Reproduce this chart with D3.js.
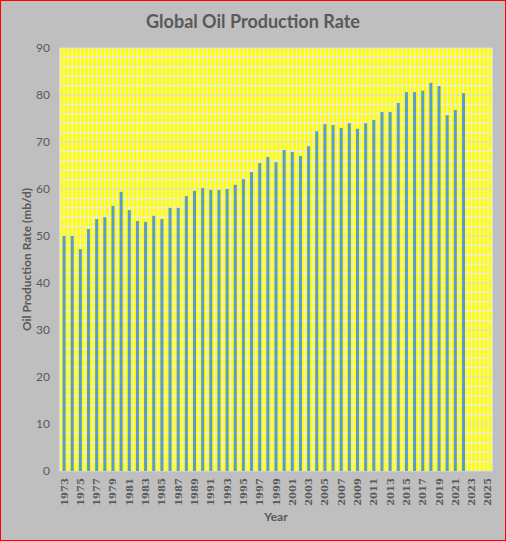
<!DOCTYPE html>
<html>
<head>
<meta charset="utf-8">
<script src="https://cdn.jsdelivr.net/npm/d3@7"></script>
<style>
  html, body { margin: 0; padding: 0; background: #fff; overflow: hidden; }
  svg { display: block; }
</style>
</head>
<body>
<svg id="chart"></svg>
<script>
// category axis (every year, labels on every second one)
const years = [
    "1973","1974","1975","1976","1977","1978","1979","1980","1981","1982",
    "1983","1984","1985","1986","1987","1988","1989","1990","1991","1992",
    "1993","1994","1995","1996","1997","1998","1999","2000","2001","2002",
    "2003","2004","2005","2006","2007","2008","2009","2010","2011","2012",
    "2013","2014","2015","2016","2017","2018","2019","2020","2021","2022",
    "2023","2024","2025"
];

// mb/d, 1973 - 2022
const production = [
    50.0, 50.0, 47.2, 51.5, 53.6, 54.0, 56.4, 59.4, 55.5, 53.2,
    53.0, 54.3, 53.6, 56.0, 56.0, 58.5, 59.6, 60.2, 59.8, 59.8,
    60.0, 60.9, 62.1, 63.6, 65.5, 66.8, 65.7, 68.3, 67.9, 67.0,
    69.1, 72.3, 73.8, 73.6, 73.0, 74.0, 72.8, 74.0, 74.7, 76.4,
    76.4, 78.3, 80.6, 80.6, 80.9, 82.6, 81.9, 75.7, 76.8, 80.4
];

const yTicks = [0, 10, 20, 30, 40, 50, 60, 70, 80, 90];
const yMinorTicks = d3.range(0, 91, 2);

const width = 506, height = 541;
const margin = {top: 48, right: 14, bottom: 70, left: 60};
const innerWidth = width - margin.left - margin.right;
const innerHeight = height - margin.top - margin.bottom;

const svg = d3.select('#chart')
    .attr('width', width)
    .attr('height', height);

// chart area background with red border
svg.append('rect')
    .attr('x', 0.5).attr('y', 0.5)
    .attr('width', width - 1).attr('height', height - 1)
    .attr('fill', '#bfbfbf')
    .attr('stroke', '#ff0000');

const g = svg.append('g')
    .attr('transform', `translate(${margin.left},${margin.top})`);

const x = d3.scaleBand()
    .domain(years)
    .range([0, innerWidth])
    .paddingInner(0.63)
    .paddingOuter(0.315);

const y = d3.scaleLinear()
    .domain([0, 90])
    .range([innerHeight, 0]);

// plot area
g.append('rect')
    .attr('width', innerWidth)
    .attr('height', innerHeight)
    .attr('fill', '#ffff00');

// vertical gridlines at category edges and centres
const step = x.step();
const vLines = [];
years.forEach((yr, i) => { vLines.push(i * step); vLines.push((i + 0.5) * step); });
vLines.push(innerWidth);

g.selectAll('.vgrid')
  .data(vLines)
  .enter().append('line')
    .attr('class', 'vgrid')
    .attr('x1', d => d)
    .attr('x2', d => d)
    .attr('y1', 0)
    .attr('y2', innerHeight)
    .attr('stroke', '#ececec')
    .attr('stroke-width', 1.2);

// horizontal gridlines
g.selectAll('.hgrid')
  .data(yMinorTicks)
  .enter().append('line')
    .attr('class', 'hgrid')
    .attr('x1', 0)
    .attr('x2', innerWidth)
    .attr('y1', d => y(d))
    .attr('y2', d => y(d))
    .attr('stroke', d => d % 10 === 0 ? '#dcdcdc' : '#ececec')
    .attr('stroke-width', 1.2);

// bars
g.selectAll('.bar')
  .data(production)
  .enter().append('rect')
    .attr('class', 'bar')
    .attr('x', (d, i) => x(years[i]))
    .attr('y', d => y(d))
    .attr('width', x.bandwidth())
    .attr('height', d => innerHeight - y(d))
    .attr('fill', '#5b9bd5');

// y axis
const yAxis = g.append('g')
    .call(d3.axisLeft(y).tickValues(yTicks).tickSize(0).tickPadding(10));
yAxis.select('.domain').remove();
yAxis.selectAll('text')
    .attr('fill', '#595959')
    .style('font-family', 'Lato, sans-serif')
    .style('font-size', '12px');

// x axis, vertical year labels
const xAxis = g.append('g')
    .attr('transform', `translate(0,${innerHeight})`)
    .call(d3.axisBottom(x)
        .tickValues(years.filter((d, i) => i % 2 === 0))
        .tickSize(0));
xAxis.select('.domain').remove();
xAxis.selectAll('text')
    .attr('transform', 'rotate(-90)')
    .attr('x', -7)
    .attr('y', 0)
    .attr('dy', '0.35em')
    .style('text-anchor', 'end')
    .attr('fill', '#595959')
    .style('font-family', 'DejaVu Serif, serif')
    .style('font-weight', 'bold')
    .style('font-size', '10px');

// titles
svg.append('text')
    .attr('x', 253)
    .attr('y', 28)
    .attr('text-anchor', 'middle')
    .attr('fill', '#595959')
    .style('font-family', 'Lato, sans-serif')
    .style('font-weight', 'bold')
    .style('font-size', '18px')
    .text('Global Oil Production Rate');

svg.append('text')
    .attr('x', 276)
    .attr('y', 521)
    .attr('text-anchor', 'middle')
    .attr('fill', '#595959')
    .style('font-family', 'Lato, sans-serif')
    .style('font-weight', 'bold')
    .style('font-size', '12px')
    .text('Year');

svg.append('text')
    .attr('transform', `translate(31,${margin.top + innerHeight / 2}) rotate(-90)`)
    .attr('text-anchor', 'middle')
    .attr('fill', '#595959')
    .style('font-family', 'Lato, sans-serif')
    .style('font-weight', 'bold')
    .style('font-size', '12px')
    .text('Oil Production Rate (mb/d)');
</script>
</body>
</html>
